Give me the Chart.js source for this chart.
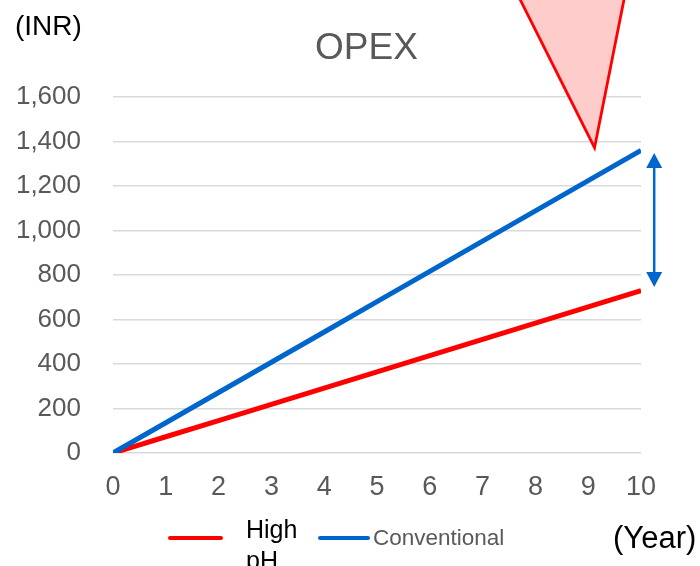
<!DOCTYPE html>
<html>
<head>
<meta charset="utf-8">
<title>OPEX</title>
<script src="https://cdn.jsdelivr.net/npm/chart.js@4/dist/chart.umd.min.js"></script>
<style>
  html, body { margin: 0; padding: 0; background: #ffffff; }
  #wrap { width: 700px; height: 566px; position: relative; }
</style>
</head>
<body>
<div id="wrap"><canvas id="opex" width="700" height="566"></canvas></div>
<script>
// Years on the x axis
const years = [0, 1, 2, 3, 4, 5, 6, 7, 8, 9, 10];
// Cumulative operating cost (INR) per process
const highPH = [0, 73, 146, 219, 292, 365, 438, 511, 584, 657, 730];
const conventional = [0, 136, 272, 408, 544, 680, 816, 952, 1088, 1224, 1360];
const seriesNames = ['High pH', 'Conventional'];
const seriesColors = ['#FF0000', '#0066CC'];
// Gap indicator between the two curves at the end of the period
const gapArrow = { x: 10.25, from: 1348, to: 746 };
// Callout wedge pointing at the conventional curve
const callout = { tip: [9.12, 1372], left: [7.58, 2100], right: [9.73, 2100] };

const FONT = "'Liberation Sans', Arial, sans-serif";
const GREY = '#595959';

const overlay = {
  id: 'overlay',
  afterDraw(chart) {
    const ctx = chart.ctx;
    const xs = chart.scales.x, ys = chart.scales.y;
    const px = v => xs.getPixelForValue(v);
    const py = v => ys.getPixelForValue(v);

    // callout wedge
    ctx.save();
    ctx.beginPath();
    ctx.moveTo(px(callout.left[0]), py(callout.left[1]));
    ctx.lineTo(px(callout.tip[0]), py(callout.tip[1]));
    ctx.lineTo(px(callout.right[0]), py(callout.right[1]));
    ctx.closePath();
    ctx.fillStyle = '#FFCCCC';
    ctx.fill();
    ctx.lineWidth = 2.8;
    ctx.lineJoin = 'miter';
    ctx.strokeStyle = '#FF0000';
    ctx.stroke();
    ctx.restore();

    // double-headed gap arrow
    const ax = px(gapArrow.x), ay1 = py(gapArrow.from), ay2 = py(gapArrow.to);
    const head = 15, half = 8;
    ctx.save();
    ctx.strokeStyle = '#0066CC';
    ctx.fillStyle = '#0066CC';
    ctx.lineWidth = 2.5;
    ctx.beginPath();
    ctx.moveTo(ax, ay1 + head - 1);
    ctx.lineTo(ax, ay2 - head + 1);
    ctx.stroke();
    ctx.beginPath();
    ctx.moveTo(ax, ay1);
    ctx.lineTo(ax - half, ay1 + head);
    ctx.lineTo(ax + half, ay1 + head);
    ctx.closePath();
    ctx.fill();
    ctx.beginPath();
    ctx.moveTo(ax, ay2);
    ctx.lineTo(ax - half, ay2 - head);
    ctx.lineTo(ax + half, ay2 - head);
    ctx.closePath();
    ctx.fill();
    ctx.restore();

    // titles and unit labels
    ctx.save();
    ctx.textBaseline = 'alphabetic';
    ctx.textAlign = 'left';
    ctx.fillStyle = GREY;
    ctx.font = '37px ' + FONT;
    ctx.fillText('OPEX', 315, 59);
    ctx.fillStyle = '#000000';
    ctx.font = '28px ' + FONT;
    ctx.fillText('(INR)', 15, 35);
    ctx.font = '31px ' + FONT;
    ctx.fillText('(Year)', 613, 548);

    // legend
    const ly = 538;
    ctx.lineCap = 'round';
    ctx.lineWidth = 4;
    ctx.strokeStyle = seriesColors[0];
    ctx.beginPath(); ctx.moveTo(170, ly); ctx.lineTo(221, ly); ctx.stroke();
    ctx.strokeStyle = seriesColors[1];
    ctx.beginPath(); ctx.moveTo(320, ly); ctx.lineTo(368, ly); ctx.stroke();
    ctx.fillStyle = '#000000';
    ctx.font = '25px ' + FONT;
    const words = seriesNames[0].split(' ');
    ctx.fillText(words[0], 246, 538);
    ctx.fillText(words[1], 246, 569);
    ctx.fillStyle = GREY;
    ctx.font = '22.5px ' + FONT;
    ctx.fillText(seriesNames[1], 373, 545);
    ctx.restore();
  }
};

new Chart(document.getElementById('opex'), {
  type: 'line',
  data: {
    datasets: [
      {
        label: seriesNames[0],
        data: years.map((y, i) => ({ x: y, y: highPH[i] })),
        borderColor: seriesColors[0],
        backgroundColor: seriesColors[0],
        borderWidth: 5,
        pointRadius: 0,
        tension: 0,
        order: 1
      },
      {
        label: seriesNames[1],
        data: years.map((y, i) => ({ x: y, y: conventional[i] })),
        borderColor: seriesColors[1],
        backgroundColor: seriesColors[1],
        borderWidth: 5,
        pointRadius: 0,
        tension: 0,
        order: 0
      }
    ]
  },
  options: {
    responsive: false,
    animation: false,
    events: [],
    layout: { padding: { top: 97, right: 59, bottom: 53, left: 0 } },
    plugins: {
      legend: { display: false },
      title: { display: false },
      tooltip: { enabled: false }
    },
    scales: {
      x: {
        type: 'linear',
        min: 0,
        max: 10,
        grid: { display: false, drawTicks: false },
        border: { display: false },
        ticks: {
          stepSize: 1,
          padding: 18,
          color: GREY,
          font: { family: FONT, size: 27 }
        },
        afterFit(scale) { scale.height = 60; }
      },
      y: {
        min: 0,
        max: 1600,
        grid: { color: '#D9D9D9', lineWidth: 1.5, drawTicks: false },
        border: { display: false },
        ticks: {
          stepSize: 200,
          padding: 32,
          color: GREY,
          font: { family: FONT, size: 26 },
          callback: v => v.toLocaleString('en-US')
        },
        afterFit(scale) { scale.width = 113; }
      }
    }
  },
  plugins: [overlay]
});
</script>
</body>
</html>
